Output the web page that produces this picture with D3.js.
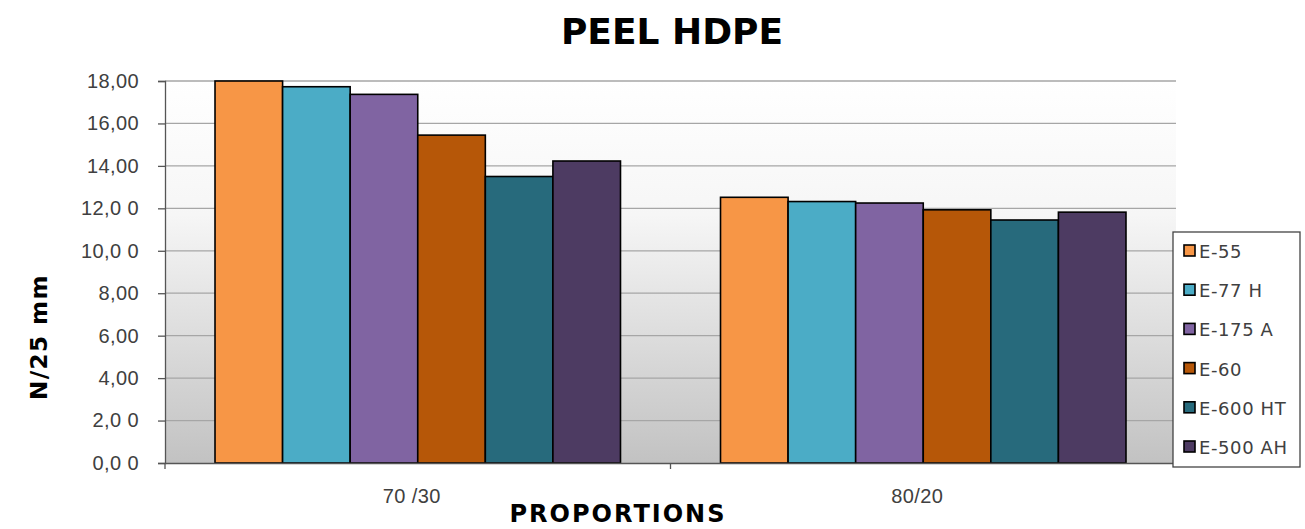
<!DOCTYPE html>
<html>
<head>
<meta charset="utf-8">
<script src="https://cdn.jsdelivr.net/npm/d3@7.9.0/dist/d3.min.js"></script>
<style>
  body { margin: 0; background: #fff; }
  svg { display: block; font-family: "DejaVu Sans", sans-serif; }
</style>
</head>
<body>
<div id="chart"></div>
<script>
// Data
const categories = ["70/30", "80/20"];
const categoryLabels = ["70 /30", "80/20"];
const series = ["E-55", "E-77H", "E-175A", "E-60", "E-600HT", "E-500AH"];
const seriesLabels = ["E-55", "E-77 H", "E-175 A", "E-60", "E-600 HT", "E-500 AH"];
const colors = ["#F79646", "#4BACC6", "#8064A2", "#B65708", "#276A7C", "#4D3B62"];
const values = [
  [18.00, 12.52],   // E-55
  [17.73, 12.32],   // E-77H
  [17.37, 12.25],   // E-175A
  [15.45, 11.93],   // E-60
  [13.50, 11.45],   // E-600HT
  [14.23, 11.82]    // E-500AH
];
const yTicks = [0, 2, 4, 6, 8, 10, 12, 14, 16, 18];
const yTickLabels = ["0,0 0", "2,0 0", "4,00", "6,00", "8,00", "10,0 0", "12,0 0", "14,00", "16,00", "18,00"];

const W = 1305, H = 529;
const margin = {top: 81, right: 129, bottom: 66, left: 165};
const width = W - margin.left - margin.right;
const height = H - margin.top - margin.bottom;

const svg = d3.select("#chart").append("svg")
  .attr("width", W)
  .attr("height", H);

// background gradient of plot area
const defs = svg.append("defs");
const grad = defs.append("linearGradient")
  .attr("id", "bg")
  .attr("x1", 0).attr("y1", 0).attr("x2", 0).attr("y2", 1);
grad.append("stop").attr("offset", "0%").attr("stop-color", "#ffffff");
grad.append("stop").attr("offset", "35%").attr("stop-color", "#f6f6f6");
grad.append("stop").attr("offset", "100%").attr("stop-color", "#c2c2c2");

const g = svg.append("g")
  .attr("transform", `translate(${margin.left},${margin.top})`);

g.append("rect")
  .attr("width", width)
  .attr("height", height)
  .attr("fill", "url(#bg)");

const x0 = d3.scaleBand()
  .domain(categories)
  .range([0, width]);

// bars fill ~80% of each category
const x1 = d3.scaleBand()
  .domain(series)
  .range([0, x0.bandwidth()])
  .paddingOuter(0.74);

const y = d3.scaleLinear()
  .domain([0, 18])
  .range([height, 0]);

// gridlines
g.append("g")
  .selectAll("line")
  .data(yTicks.filter(d => d > 0))
  .enter().append("line")
  .attr("x1", 0)
  .attr("x2", width)
  .attr("y1", d => y(d))
  .attr("y2", d => y(d))
  .attr("stroke", "#a6a6a6")
  .attr("stroke-width", 1.3);

// bars
const data = [];
categories.forEach((c, ci) => {
  series.forEach((s, si) => {
    data.push({cat: c, ser: s, value: values[si][ci], color: colors[si]});
  });
});

g.selectAll(".bar")
  .data(data)
  .enter().append("rect")
  .attr("class", "bar")
  .attr("x", d => x0(d.cat) + x1(d.ser))
  .attr("y", d => y(d.value))
  .attr("width", x1.bandwidth())
  .attr("height", d => height - y(d.value))
  .attr("fill", d => d.color)
  .attr("stroke", "#000")
  .attr("stroke-width", 1.6);

// y axis
const yAxis = g.append("g")
  .call(d3.axisLeft(y).tickValues(yTicks).tickSize(7).tickPadding(19)
    .tickFormat((d, i) => yTickLabels[i]));
yAxis.select(".domain").attr("stroke", "#555").attr("stroke-width", 1.3);
yAxis.selectAll(".tick line").attr("stroke", "#555").attr("stroke-width", 1.3);
yAxis.selectAll(".tick text")
  .attr("font-size", 20)
  .attr("letter-spacing", 0.4)
  .attr("fill", "#404040");

// x axis
const xAxis = g.append("g")
  .attr("transform", `translate(0,${height})`)
  .call(d3.axisBottom(x0).tickSize(0).tickPadding(26)
    .tickFormat((d, i) => categoryLabels[i]));
xAxis.select(".domain").attr("stroke", "#555").attr("stroke-width", 1.5);
xAxis.selectAll(".tick text")
  .attr("font-size", 20)
  .attr("letter-spacing", 0.4)
  .attr("dx", -6)
  .attr("fill", "#404040");

// category separator ticks
g.append("g")
  .selectAll("line")
  .data([0, width / 2])
  .enter().append("line")
  .attr("x1", d => d).attr("x2", d => d)
  .attr("y1", height).attr("y2", height + 6)
  .attr("stroke", "#555")
  .attr("stroke-width", 1.3);

// title
svg.append("text")
  .attr("x", 672)
  .attr("y", 44)
  .attr("text-anchor", "middle")
  .attr("font-size", 36)
  .attr("font-weight", "bold")
  .attr("fill", "#000")
  .text("PEEL HDPE");

// axis titles
svg.append("text")
  .attr("x", 618)
  .attr("y", 522)
  .attr("text-anchor", "middle")
  .attr("font-size", 24)
  .attr("font-weight", "bold")
  .attr("letter-spacing", 2)
  .text("PROPORTIONS");

svg.append("text")
  .attr("transform", "rotate(-90)")
  .attr("x", -337)
  .attr("y", 47)
  .attr("text-anchor", "middle")
  .attr("font-size", 23)
  .attr("font-weight", "bold")
  .attr("letter-spacing", 1.5)
  .text("N/25 mm");

// legend
const legend = svg.append("g")
  .attr("transform", "translate(1173,232)");

legend.append("rect")
  .attr("width", 127)
  .attr("height", 235)
  .attr("fill", "#fff")
  .attr("stroke", "#444")
  .attr("stroke-width", 1.3);

const items = legend.selectAll(".item")
  .data(series)
  .enter().append("g")
  .attr("class", "item")
  .attr("transform", (d, i) => `translate(0,${19 + i * 39.2})`);

items.append("rect")
  .attr("x", 11)
  .attr("y", -6)
  .attr("width", 11)
  .attr("height", 11)
  .attr("fill", (d, i) => colors[i])
  .attr("stroke", "#000")
  .attr("stroke-width", 1.6);

items.append("text")
  .attr("x", 26)
  .attr("y", 7)
  .attr("font-size", 18)
  .attr("letter-spacing", 0.6)
  .attr("fill", "#404040")
  .text((d, i) => seriesLabels[i]);
</script>
</body>
</html>
